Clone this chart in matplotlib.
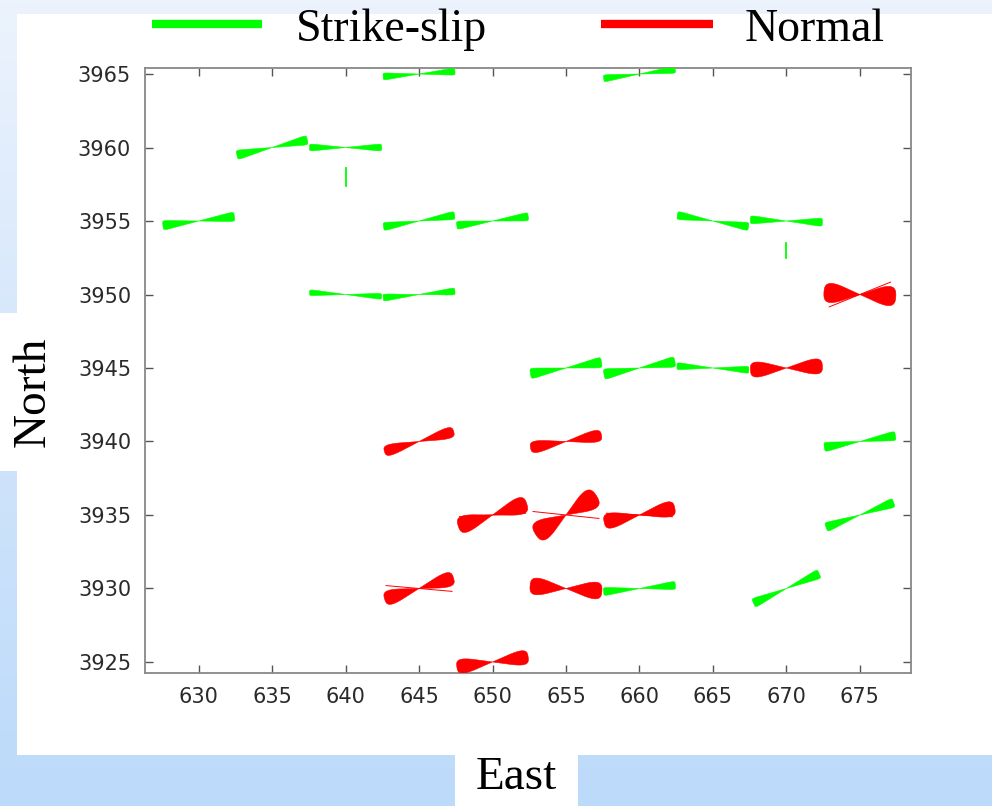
import numpy as np
import matplotlib
matplotlib.use("Agg")
import matplotlib.pyplot as plt
from matplotlib.patches import Polygon, Rectangle
from matplotlib.lines import Line2D
from matplotlib.colors import LinearSegmentedColormap

# strike-slip rose glyphs: grid position (km), azimuth of main lobe (deg), lobe half-width (deg)
ss_east = [645, 660, 635, 640, 630, 645, 650, 665, 670, 640, 645, 655, 660, 665, 675, 675, 660, 670]
ss_north = [3965, 3965, 3960, 3960, 3955, 3955, 3955, 3955, 3955, 3950, 3950, 3945, 3945, 3945, 3940, 3935, 3930, 3930]
ss_angle = [4, 7, 12, 0, 7, 9, 7, -9, -2, -3, 5, 9, 10, -3, 9, 20, 5, 24]
ss_halfw = [6, 6, 8, 6, 8, 7, 7, 7, 7, 5, 6, 9, 9, 6, 8, 8, 7, 8]

# normal-faulting rose glyphs
nm_east = [675, 670, 645, 655, 650, 655, 660, 645, 655, 650]
nm_north = [3950, 3945, 3940, 3940, 3935, 3935, 3935, 3930, 3930, 3925]
nm_angle = [-3, 3, 16, 10, 18, 32, 11, 17, -4, 8]
nm_halfw = [22, 17, 12, 13, 19, 23, 17, 16, 19, 16]

# minor (thin) directions inside some normal glyphs
ray_east = [675, 645, 655, 660, 650]
ray_north = [3950, 3930, 3935, 3935, 3935]
ray_angle = [22, -5, -6, -3, 3]

# short strike-slip stubs (east, north from, north to)
stub_east = [640, 670]
stub_n0 = [3957.4, 3952.5]
stub_n1 = [3958.6, 3953.5]

GREEN, RED = "#00ff00", "#ff0000"
R = 2.45
W, H = 992, 806


def fx(x):
    return x / W


def fy(y):
    return 1 - y / H


def lobe(x0, y0, ang, hw, p):
    u = np.linspace(-1, 1, 80)
    r = R * (1 - np.abs(u) ** p) ** (1 / p)
    t = np.deg2rad(ang + hw * u)
    return np.column_stack([np.r_[x0, x0 + r * np.cos(t)], np.r_[y0, y0 + r * np.sin(t)]])


def rose(ax, x0, y0, ang, hw, color, p):
    for a in (ang, ang + 180):
        ax.add_patch(Polygon(lobe(x0, y0, a, hw, p), closed=True, fc=color, ec=color, lw=0.4, zorder=3))


fig = plt.figure(figsize=(W / 100, H / 100), dpi=100)

# slide background: blue gradient with white panels
bg = fig.add_axes([0, 0, 1, 1], zorder=-10)
bg.set_axis_off()
grad = LinearSegmentedColormap.from_list("slide", ["#ecf3fd", "#d2e5fb", "#bcdafa"])
bg.imshow(np.linspace(0, 1, 256)[:, None], aspect="auto", cmap=grad, extent=[0, 1, 0, 1])
bg.set_xlim(0, 1); bg.set_ylim(0, 1)
for x0, y0, x1, y1 in [(17, 14, 992, 755), (0, 313, 18, 471), (455, 754, 578, 806)]:
    bg.add_patch(Rectangle((fx(x0), fy(y1)), fx(x1) - fx(x0), fy(y0) - fy(y1),
                           fc="white", ec="none"))

ax = fig.add_axes([fx(145), fy(672.7), fx(911) - fx(145), fy(68) - fy(672.7)])
ax.set_xlim(626.35, 678.48)
ax.set_ylim(3924.27, 3965.41)

for e, n, a, w in zip(ss_east, ss_north, ss_angle, ss_halfw):
    rose(ax, e, n, a, w, GREEN, 10)
for e, n, a, w in zip(nm_east, nm_north, nm_angle, nm_halfw):
    rose(ax, e, n, a, w, RED, 4)
for e, n, a in zip(ray_east, ray_north, ray_angle):
    t = np.deg2rad(a)
    ax.plot([e - 0.92 * R * np.cos(t), e + 0.92 * R * np.cos(t)],
            [n - 0.92 * R * np.sin(t), n + 0.92 * R * np.sin(t)], color=RED, lw=0.7, zorder=3)
for e, n0, n1 in zip(stub_east, stub_n0, stub_n1):
    ax.plot([e, e], [n0, n1], color=GREEN, lw=1.3, zorder=3)

ax.set_xticks(np.arange(630, 676, 5))
ax.set_yticks(np.arange(3925, 3966, 5))
ax.tick_params(direction="in", length=6, width=1, color="#555555", top=True, right=True,
               labelsize=15, labelcolor="#2a2a2a", pad=10)
for s in ax.spines.values():
    s.set_color("#888888")
    s.set_linewidth(1.3)

serif = "Liberation Serif"
fig.text(fx(33), fy(392), "North", rotation=90, ha="center", va="center", fontsize=34, family=serif)
fig.text(fx(516), fy(778), "East", ha="center", va="center", fontsize=34, family=serif)

# legend across the top
for x0, x1, c, label, tx in [(152, 262, GREEN, "Strike-slip", 296), (601, 713, RED, "Normal", 745)]:
    fig.add_artist(Line2D([fx(x0), fx(x1)], [fy(24), fy(24)], color=c, lw=6, solid_capstyle="butt"))
    fig.text(fx(tx), fy(41), label, ha="left", va="baseline", fontsize=33, family=serif)

fig.savefig("out.png", dpi=100)
